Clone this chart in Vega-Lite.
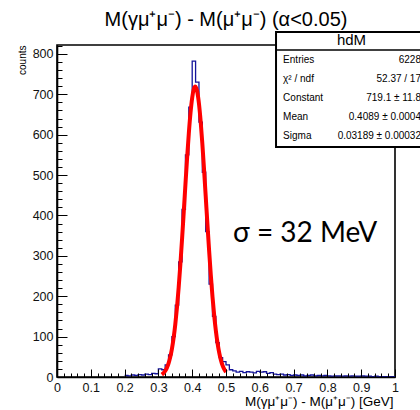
{
  "$schema": "https://vega.github.io/schema/vega-lite/v6.json",
  "width": 338,
  "height": 332,
  "autosize": "none",
  "padding": {"left": 57, "top": 45, "right": 25, "bottom": 33},
  "background": "white",
  "title": {"text": "M(γμ⁺μ⁻) - M(μ⁺μ⁻) (α<0.05)", "font": "Liberation Sans", "fontSize": 20, "fontWeight": "normal", "anchor": "middle", "offset": 1, "color": "black"},
  "config": {"view": {"stroke": "black", "strokeWidth": 1.6}, "font": "Liberation Sans"},
  "datasets": {
    "one": [{}],
    "hist": [
      {"x": 0.20, "n": 4}, {"x": 0.21, "n": 3}, {"x": 0.22, "n": 5}, {"x": 0.23, "n": 4}, {"x": 0.24, "n": 6},
      {"x": 0.25, "n": 5}, {"x": 0.26, "n": 7}, {"x": 0.27, "n": 6}, {"x": 0.28, "n": 9}, {"x": 0.29, "n": 8},
      {"x": 0.30, "n": 20}, {"x": 0.31, "n": 18}, {"x": 0.32, "n": 30}, {"x": 0.33, "n": 55}, {"x": 0.34, "n": 100},
      {"x": 0.35, "n": 178}, {"x": 0.36, "n": 285}, {"x": 0.37, "n": 415}, {"x": 0.38, "n": 550}, {"x": 0.39, "n": 668},
      {"x": 0.40, "n": 782}, {"x": 0.41, "n": 730}, {"x": 0.42, "n": 631}, {"x": 0.43, "n": 507}, {"x": 0.44, "n": 360},
      {"x": 0.45, "n": 230}, {"x": 0.46, "n": 150}, {"x": 0.47, "n": 85}, {"x": 0.48, "n": 48}, {"x": 0.49, "n": 38},
      {"x": 0.50, "n": 30}, {"x": 0.51, "n": 18}, {"x": 0.52, "n": 15}, {"x": 0.53, "n": 12}, {"x": 0.54, "n": 14},
      {"x": 0.55, "n": 11}, {"x": 0.56, "n": 13}, {"x": 0.57, "n": 12}, {"x": 0.58, "n": 10}, {"x": 0.59, "n": 14},
      {"x": 0.60, "n": 12}, {"x": 0.61, "n": 13}, {"x": 0.62, "n": 9}, {"x": 0.63, "n": 11}, {"x": 0.64, "n": 7},
      {"x": 0.65, "n": 6}, {"x": 0.66, "n": 7}, {"x": 0.67, "n": 5}, {"x": 0.68, "n": 6}, {"x": 0.69, "n": 4},
      {"x": 0.70, "n": 5}, {"x": 0.71, "n": 4}, {"x": 0.72, "n": 5}, {"x": 0.73, "n": 3}, {"x": 0.74, "n": 4},
      {"x": 0.75, "n": 5}, {"x": 0.76, "n": 3}, {"x": 0.77, "n": 4}, {"x": 0.78, "n": 3}, {"x": 0.79, "n": 4},
      {"x": 0.80, "n": 3}, {"x": 0.81, "n": 2}, {"x": 0.82, "n": 3}, {"x": 0.83, "n": 3}, {"x": 0.84, "n": 2},
      {"x": 0.85, "n": 3}, {"x": 0.86, "n": 2}, {"x": 0.87, "n": 3}, {"x": 0.88, "n": 2}, {"x": 0.89, "n": 2},
      {"x": 0.90, "n": 3}, {"x": 0.91, "n": 2}, {"x": 0.92, "n": 2}, {"x": 0.93, "n": 1}, {"x": 0.94, "n": 2},
      {"x": 0.95, "n": 1}, {"x": 0.96, "n": 1}, {"x": 0.97, "n": 1}, {"x": 0.98, "n": 1}, {"x": 0.99, "n": 1},
      {"x": 1.00, "n": 1}
    ],
    "fit": [
      {"x": 0.310, "f": 5.87}, {"x": 0.315, "f": 9.43}, {"x": 0.320, "f": 14.76}, {"x": 0.325, "f": 22.6},
      {"x": 0.330, "f": 33.7}, {"x": 0.335, "f": 49.1}, {"x": 0.340, "f": 69.7}, {"x": 0.345, "f": 96.6},
      {"x": 0.350, "f": 130.7}, {"x": 0.355, "f": 172.4}, {"x": 0.360, "f": 221.9}, {"x": 0.365, "f": 278.8},
      {"x": 0.370, "f": 341.7}, {"x": 0.375, "f": 408.7}, {"x": 0.380, "f": 477.0}, {"x": 0.385, "f": 543.1},
      {"x": 0.390, "f": 603.3}, {"x": 0.395, "f": 654.0}, {"x": 0.400, "f": 691.6}, {"x": 0.405, "f": 713.7},
      {"x": 0.4089, "f": 719.1}, {"x": 0.410, "f": 719.0}, {"x": 0.415, "f": 706.1}, {"x": 0.420, "f": 676.8},
      {"x": 0.425, "f": 633.0}, {"x": 0.430, "f": 577.7}, {"x": 0.435, "f": 514.5}, {"x": 0.440, "f": 447.0},
      {"x": 0.445, "f": 378.9}, {"x": 0.450, "f": 313.4}, {"x": 0.455, "f": 252.9}, {"x": 0.460, "f": 199.2},
      {"x": 0.465, "f": 153.0}, {"x": 0.470, "f": 114.7}, {"x": 0.475, "f": 83.9}, {"x": 0.480, "f": 59.9},
      {"x": 0.485, "f": 41.7}, {"x": 0.490, "f": 28.3}, {"x": 0.495, "f": 18.8}, {"x": 0.500, "f": 12.2}
    ]
  },
  "layer": [
    {
      "data": {"name": "hist"},
      "mark": {"type": "line", "interpolate": "step-after", "color": "#13139a", "strokeWidth": 1.3},
      "encoding": {
        "x": {"field": "x", "type": "quantitative", "scale": {"domain": [0, 1], "nice": false, "zero": false},
          "axis": {"orient": "bottom", "zindex": 1, "values": [0, 0.1, 0.2, 0.3, 0.4, 0.5, 0.6, 0.7, 0.8, 0.9, 1], "format": "~g",
            "tickSize": -8, "tickWidth": 1, "tickColor": "black", "domainColor": "black", "domainWidth": 1.6, "grid": false,
            "labelFont": "Liberation Sans", "labelFontSize": 12.5, "labelColor": "#111", "labelPadding": 22, "labelBaseline": "alphabetic",
            "labelFlush": false, "labelOverlap": false,
            "title": "M(γμ⁺μ⁻) - M(μ⁺μ⁻) [GeV]", "titleFont": "Liberation Sans", "titleFontSize": 13.5, "titleFontWeight": "normal",
            "titleColor": "black", "titleAlign": "right", "titleAnchor": "end", "titleX": 336, "titleY": 28, "titleBaseline": "alphabetic"}},
        "y": {"field": "n", "type": "quantitative", "scale": {"domain": [0, 822], "nice": false},
          "axis": {"orient": "left", "zindex": 1, "values": [0, 100, 200, 300, 400, 500, 600, 700, 800],
            "tickSize": -10, "tickWidth": 1, "tickColor": "black", "domainColor": "black", "domainWidth": 1.6, "grid": false,
            "labelFont": "Liberation Sans", "labelFontSize": 12.5, "labelColor": "#111", "labelPadding": 14, "labelOverlap": false, "labelFlush": false,
            "title": "counts", "titleFont": "Liberation Sans", "titleFontSize": 10, "titleFontWeight": "normal", "titleColor": "black",
            "titleAngle": -90, "titleAlign": "right", "titleAnchor": "end", "titleX": -32, "titleY": 0, "titleBaseline": "alphabetic"}}
      }
    },
    {
      "data": {"name": "fit"},
      "mark": {"type": "line", "interpolate": "monotone", "color": "#ff0000", "strokeWidth": 4},
      "encoding": {
        "x": {"field": "x", "type": "quantitative", "scale": {"domain": [0, 1], "nice": false, "zero": false},
          "axis": {"orient": "bottom", "zindex": 1, "values": [0.02, 0.04, 0.06, 0.08, 0.12, 0.14, 0.16, 0.18, 0.22, 0.24, 0.26, 0.28, 0.32, 0.34, 0.36, 0.38, 0.42, 0.44, 0.46, 0.48, 0.52, 0.54, 0.56, 0.58, 0.62, 0.64, 0.66, 0.68, 0.72, 0.74, 0.76, 0.78, 0.82, 0.84, 0.86, 0.88, 0.92, 0.94, 0.96, 0.98],
            "tickSize": -4, "tickWidth": 1, "tickColor": "black", "domain": false, "labels": false, "grid": false, "title": null}},
        "y": {"field": "f", "type": "quantitative", "scale": {"domain": [0, 822], "nice": false},
          "axis": {"orient": "left", "zindex": 1, "values": [20, 40, 60, 80, 120, 140, 160, 180, 220, 240, 260, 280, 320, 340, 360, 380, 420, 440, 460, 480, 520, 540, 560, 580, 620, 640, 660, 680, 720, 740, 760, 780, 820],
            "tickSize": -5, "tickWidth": 1, "tickColor": "black", "domain": false, "labels": false, "grid": false, "title": null}}
      }
    },
    {
      "data": {"name": "one"},
      "mark": {"type": "text", "font": "Lato", "fontSize": 28, "align": "left", "baseline": "alphabetic", "color": "black", "text": "σ = 32 MeV"},
      "encoding": {
        "x": {"datum": 0.5207, "type": "quantitative", "scale": {"domain": [0, 1], "nice": false, "zero": false}, "axis": null},
        "y": {"datum": 335, "type": "quantitative", "scale": {"domain": [0, 822], "nice": false}, "axis": null}
      }
    },
    {
      "data": {"name": "one"},
      "mark": {"type": "rect", "fill": "white", "stroke": "black", "strokeWidth": 2},
      "encoding": {
        "x": {"datum": 0.648, "type": "quantitative", "scale": {"domain": [0, 1], "nice": false, "zero": false}, "axis": null},
        "x2": {"datum": 1.095},
        "y": {"datum": 569.4, "type": "quantitative", "scale": {"domain": [0, 822], "nice": false}, "axis": null},
        "y2": {"datum": 854.2}
      }
    },
    {
      "data": {"name": "one"},
      "mark": {"type": "rule", "stroke": "black", "strokeWidth": 1.5},
      "encoding": {
        "x": {"datum": 0.648, "type": "quantitative", "scale": {"domain": [0, 1], "nice": false, "zero": false}, "axis": null},
        "x2": {"datum": 1.095},
        "y": {"datum": 809.6, "type": "quantitative", "scale": {"domain": [0, 822], "nice": false}, "axis": null}
      }
    },
    {
      "data": {"name": "one"},
      "mark": {"type": "text", "font": "Liberation Sans", "fontSize": 15, "align": "center", "baseline": "middle", "color": "black", "text": "hdM"},
      "encoding": {
        "x": {"datum": 0.8713, "type": "quantitative", "scale": {"domain": [0, 1], "nice": false, "zero": false}, "axis": null},
        "y": {"datum": 834.4, "type": "quantitative", "scale": {"domain": [0, 822], "nice": false}, "axis": null}
      }
    },
    {
      "data": {"name": "one"},
      "mark": {"type": "text", "font": "Liberation Sans", "fontSize": 10, "align": "left", "baseline": "middle", "lineHeight": 19.2, "color": "black",
        "text": ["Entries", "χ² / ndf", "Constant", "Mean", "Sigma"]},
      "encoding": {
        "x": {"datum": 0.669, "type": "quantitative", "scale": {"domain": [0, 1], "nice": false, "zero": false}, "axis": null},
        "y": {"datum": 785.9, "type": "quantitative", "scale": {"domain": [0, 822], "nice": false}, "axis": null}
      }
    },
    {
      "data": {"name": "one"},
      "mark": {"type": "text", "font": "Liberation Sans", "fontSize": 10, "align": "right", "baseline": "middle", "lineHeight": 19.2, "color": "black",
        "text": ["6228", "52.37 / 17", "719.1 ± 11.8", "0.4089 ± 0.0004", "0.03189 ± 0.00032"]},
      "encoding": {
        "x": {"datum": 1.0769, "type": "quantitative", "scale": {"domain": [0, 1], "nice": false, "zero": false}, "axis": null},
        "y": {"datum": 785.9, "type": "quantitative", "scale": {"domain": [0, 822], "nice": false}, "axis": null}
      }
    }
  ],
  "resolve": {"axis": {"x": "independent", "y": "independent"}}
}
